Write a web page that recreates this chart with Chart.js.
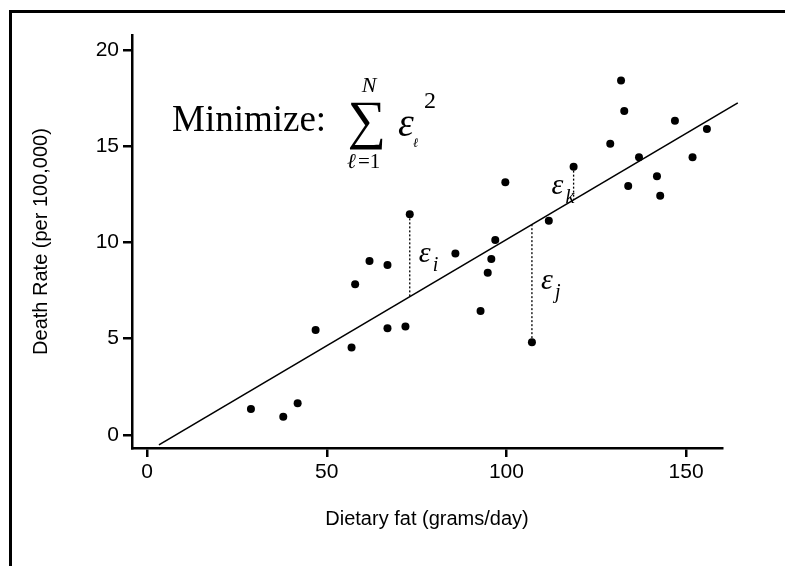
<!DOCTYPE html>
<html>
<head>
<meta charset="utf-8">
<script src="https://cdn.jsdelivr.net/npm/chart.js@4"></script>
<style>
  html, body { margin: 0; padding: 0; background: #fff; }
  #wrap { width: 785px; height: 566px; }
</style>
</head>
<body>
<div id="wrap"><canvas id="fatChart" width="785" height="566"></canvas></div>
<script>
// dietary fat (g/day) vs death rate (per 100,000)
const fatValues = [28.9, 37.9, 41.9, 46.9, 56.9, 57.9, 61.9, 66.9, 66.9, 71.9,
                   73.1, 85.8, 92.8, 94.8, 95.8, 96.9, 99.7, 107.1, 111.8, 118.7,
                   128.9, 131.9, 132.8, 133.9, 136.9, 141.9, 142.8, 146.9, 151.8, 155.8];
const deathRates = [1.35, 0.95, 1.65, 5.45, 4.54, 7.83, 9.04, 8.83, 5.54, 5.63,
                    11.46, 9.42, 6.44, 8.43, 9.14, 10.13, 13.13, 4.82, 11.13, 13.94,
                    15.13, 18.41, 16.83, 12.94, 14.43, 13.44, 12.43, 16.33, 14.43, 15.9];
const xTicks = [0, 50, 100, 150];
const yTicks = [0, 5, 10, 15, 20];

// least squares line as drawn
const fitIntercept = -0.88;
const fitSlope = 0.1103;
const fitFrom = 3.3;
const fitTo = 164.4;

// points whose residuals are marked, and their subscripts
const residualIdx = [10, 17, 19];
const residualNames = ['i', 'j', 'k'];

const fitAt = x => fitIntercept + fitSlope * x;

const residualSets = residualIdx.map(i => ({
    type: 'line',
    data: [{ x: fatValues[i], y: deathRates[i] }, { x: fatValues[i], y: fitAt(fatValues[i]) }],
    borderColor: '#000',
    borderWidth: 1.3,
    borderDash: [2, 2],
    pointRadius: 0
}));

const sansFont = 'Liberation Sans, Arial, sans-serif';
const serifFont = '"Liberation Serif", "Times New Roman", serif';

const annotate = {
    id: 'annotate',
    afterDraw(chart) {
        const ctx = chart.ctx;
        const xs = chart.scales.x, ys = chart.scales.y;
        ctx.save();
        // outer frame
        ctx.strokeStyle = '#000';
        ctx.lineWidth = 3;
        ctx.strokeRect(10.5, 11.5, 800, 600);

        ctx.fillStyle = '#000';
        ctx.textBaseline = 'alphabetic';
        ctx.textAlign = 'left';
        ctx.font = '37px ' + serifFont;
        ctx.fillText('Minimize:', 172, 131);

        ctx.textAlign = 'center';
        ctx.font = '54px ' + serifFont;
        ctx.fillText('\u2211', 367, 138);
        ctx.font = 'italic 22px ' + serifFont;
        ctx.fillText('N', 369, 92);
        ctx.textAlign = 'left';
        ctx.font = 'italic 21px ' + serifFont;
        ctx.fillText('\u2113', 347, 168);
        ctx.font = '21px ' + serifFont;
        ctx.fillText('=1', 358, 168);

        ctx.font = 'italic 40px ' + serifFont;
        ctx.fillText('\u03b5', 398, 136);
        ctx.font = '24px ' + serifFont;
        ctx.fillText('2', 424, 108);
        ctx.font = 'italic 13px ' + serifFont;
        ctx.fillText('\u2113', 413, 147);

        // residual labels
        residualIdx.forEach((i, n) => {
            const px = xs.getPixelForValue(fatValues[i]);
            const mid = ys.getPixelForValue((deathRates[i] + fitAt(fatValues[i])) / 2);
            const left = residualNames[n] === 'k';
            const ex = left ? px - 22 : px + 9;
            const ey = left ? mid + 11 : mid + 6;
            ctx.font = 'italic 30px ' + serifFont;
            ctx.fillText('\u03b5', ex, ey);
            ctx.font = 'italic 20px ' + serifFont;
            ctx.fillText(residualNames[n], ex + 14, ey + 9);
        });
        ctx.restore();
    }
};

new Chart(document.getElementById('fatChart'), {
    type: 'scatter',
    data: {
        datasets: [{
            type: 'scatter',
            data: fatValues.map((x, i) => ({ x: x, y: deathRates[i] })),
            backgroundColor: '#000',
            borderWidth: 0,
            pointRadius: 4
        }, {
            type: 'line',
            data: [{ x: fitFrom, y: fitAt(fitFrom) }, { x: fitTo, y: fitAt(fitTo) }],
            borderColor: '#000',
            borderWidth: 1.6,
            pointRadius: 0,
            clip: false
        }, ...residualSets]
    },
    options: {
        responsive: false,
        devicePixelRatio: 1,
        animation: false,
        events: [],
        layout: { padding: { left: 12, right: 63, top: 35, bottom: 0 } },
        plugins: { legend: { display: false }, tooltip: { enabled: false } },
        scales: {
            x: {
                type: 'linear',
                min: -4.2,
                max: 160,
                afterBuildTicks: s => { s.ticks = xTicks.map(v => ({ value: v })); },
                afterFit: s => { s.height = 118; },
                border: { display: true, color: '#000', width: 2.5 },
                grid: { drawOnChartArea: false, drawTicks: true, tickLength: 9, color: '#000', lineWidth: 2.5 },
                ticks: { color: '#000', font: { family: sansFont, size: 21 }, padding: 3, maxRotation: 0 },
                title: { display: true, text: 'Dietary fat (grams/day)', color: '#000',
                         font: { family: sansFont, size: 20 }, padding: { top: 0, bottom: 35 } }
            },
            y: {
                type: 'linear',
                min: -0.68,
                max: 20.78,
                afterBuildTicks: s => { s.ticks = yTicks.map(v => ({ value: v })); },
                afterFit: s => { s.width = 120; },
                border: { display: true, color: '#000', width: 2.5 },
                grid: { drawOnChartArea: false, drawTicks: true, tickLength: 9, color: '#000', lineWidth: 2.5 },
                ticks: { color: '#000', font: { family: sansFont, size: 21 }, padding: 4 },
                title: { display: true, text: 'Death Rate (per 100,000)', color: '#000',
                         font: { family: sansFont, size: 20 }, padding: { top: 17, bottom: 0 } }
            }
        }
    },
    plugins: [annotate]
});
</script>
</body>
</html>
